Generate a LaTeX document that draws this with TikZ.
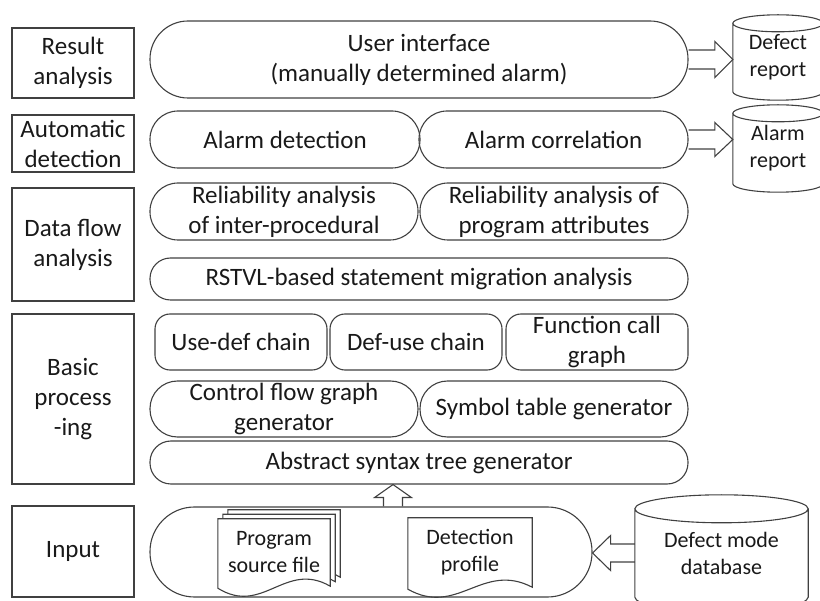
\documentclass[tikz,border=0pt]{standalone}
\usepackage{fontspec}
\setmainfont{Carlito}
\usetikzlibrary{calc,backgrounds}
\definecolor{rimgray}{HTML}{404040}
\newcommand{\bigtxt}{\fontsize{25}{30}\selectfont}
\newcommand{\smalltxt}{\fontsize{22}{27}\selectfont}
\tikzset{
  rim/.style={draw=rimgray,line width=1.1pt},
  tagbox/.style={rim,align=center,font=\bigtxt,inner sep=0pt,minimum width=122pt},
  pill/.style={rim,rounded corners=#1,align=center,font=\bigtxt,inner sep=0pt},
  drumnode/.style={align=center,font=\smalltxt,inner sep=0pt},
  sheetnode/.style={align=center,font=\smalltxt,inner sep=0pt},
  fatarr/.style={rim,line join=miter},
}
% cylinder outline round a node: name, half height of the ellipse
\newcommand{\drum}[2]{%
  \draw[rim] let \p1=(#1.north west), \p2=(#1.south east), \n1={(\x2-\x1)/2} in
    (\x1,{\y1-#2}) -- (\x1,{\y2+#2}) arc[start angle=180,end angle=360,x radius=\n1,y radius=#2] -- (\x2,{\y1-#2})
    ({\x1+\n1},{\y1-#2}) ellipse[x radius=\n1,y radius=#2];}
% page with wavy foot round a node: name, offset right, offset up
\newcommand{\sheet}[3]{%
  \draw[rim,fill=white] let \p1=($(#1.north west)+(#2,#3)$), \p2=($(#1.south east)+(#2,#3)$), \n1={\x2-\x1} in
    (\p1) -- (\x2,\y1) -- (\x2,\y2)
    .. controls ({\x2-0.4*\n1},{\y2+26pt}) and ({\x1+0.4*\n1},{\y2-30pt}) .. (\x1,{\y2-2pt}) -- cycle;}

\begin{document}
\begin{tikzpicture}[x=1pt,y=-1pt,text=black!90]
  \useasboundingbox (0,0) rectangle (820,601);
  % layer names
  \node[tagbox,minimum height=70pt] (tres) at (73,63) {Result\\analysis};
  \node[tagbox,minimum height=57pt] (tauto) at (73,143.5) {Automatic\\detection};
  \node[tagbox,minimum height=113pt] (tdata) at (73,244.5) {Data flow\\analysis};
  \node[tagbox,minimum height=170pt] (tbasic) at (73,399) {Basic\\process\\-ing};
  \node[tagbox,minimum height=91pt] (tinput) at (73,551.5) {Input};

  \node[pill=38pt,minimum width=538pt,minimum height=77pt] (ui) at (419,59.5) {User interface\\(manually determined alarm)};
  \node[pill=28pt,minimum width=270pt,minimum height=57pt] (adet) at (285,139.5) {Alarm detection};
  \node[pill=28pt,minimum width=269pt,minimum height=57pt] (acor) at (553.5,139.5) {Alarm correlation};
  \node[pill=28pt,minimum width=268pt,minimum height=57pt] (relinter) at (284,211.5) {Reliability analysis\\of inter-procedural};
  \node[pill=28pt,minimum width=268pt,minimum height=57pt] (relattr) at (554,211.5) {Reliability analysis of\\program attributes};
  \node[pill=20.5pt,minimum width=538pt,minimum height=42pt] (rstvl) at (419,279) {RSTVL-based statement migration analysis};
  \node[pill=15pt,minimum width=172pt,minimum height=56pt] (udc) at (241,342) {Use-def chain};
  \node[pill=15pt,minimum width=172pt,minimum height=56pt] (duc) at (416,342) {Def-use chain};
  \node[pill=15pt,minimum width=182pt,minimum height=56pt] (fcg) at (597,342) {Function call\\graph};
  \node[pill=27.5pt,minimum width=268pt,minimum height=56pt] (cfg) at (284,409) {Control flow graph\\generator};
  \node[pill=27.5pt,minimum width=268pt,minimum height=56pt] (stg) at (554,409) {Symbol table generator};
  \node[pill=21pt,minimum width=538pt,minimum height=43pt] (ast) at (419,462.5) {Abstract syntax tree generator};
  \node[pill=44.5pt,minimum width=442pt,minimum height=90pt] (inp) at (371,552) {};

  \node[sheetnode,minimum width=112pt,minimum height=67pt] (psf) at (274,552.5) {Program\\source file};
  \node[sheetnode,minimum width=124pt,minimum height=69pt] (dprof) at (470,552.5) {Detection\\profile};
  \begin{scope}[on background layer]
    \sheet{psf}{10pt}{9pt}
    \sheet{psf}{5pt}{4.5pt}
    \sheet{psf}{0pt}{0pt}
    \sheet{dprof}{0pt}{0pt}
  \end{scope}

  \node[drumnode,minimum width=90pt,minimum height=85pt] (drep) at (778,57.5) {Defect\\report};
  \node[drumnode,minimum width=90pt,minimum height=87pt] (arep) at (778,148.5) {Alarm\\report};
  \node[drumnode,minimum width=173pt,minimum height=116pt] (dmdb) at (721.5,553) {Defect mode\\database};
  \drum{drep}{8.5pt}
  \drum{arep}{8.5pt}
  \drum{dmdb}{14pt}

  \draw[fatarr] let \p1=(ui.east), \p2=(drep.west) in
    (\x1,\y1+9.5pt) -- (\x2-18pt,\y1+9.5pt) -- (\x2-18pt,\y1+18pt) -- (\x2,\y1)
    -- (\x2-18pt,\y1-18pt) -- (\x2-18pt,\y1-9.5pt) -- (\x1,\y1-9.5pt);
  \draw[fatarr] let \p1=(acor.east), \p2=(arep.west) in
    (\x1,\y1+9.5pt) -- (\x2-18pt,\y1+9.5pt) -- (\x2-18pt,\y1+17pt) -- (\x2,\y1)
    -- (\x2-18pt,\y1-17pt) -- (\x2-18pt,\y1-9.5pt) -- (\x1,\y1-9.5pt);
  \draw[fatarr] let \p1=(dmdb.west), \p2=(inp.east) in
    (\x1,\y1+9pt) -- (\x2+18pt,\y1+9pt) -- (\x2+18pt,\y1+17.5pt) -- (\x2,\y1)
    -- (\x2+18pt,\y1-17.5pt) -- (\x2+18pt,\y1-9pt) -- (\x1,\y1-9pt);
  \draw[fatarr] let \p1=([xshift=22pt]inp.north), \p2=(ast.south) in
    (\x1-9.5pt,\y1) -- (\x1-9.5pt,\y2-13pt) -- (\x1-18.5pt,\y2-13pt) -- (\x1,\y2)
    -- (\x1+18.5pt,\y2-13pt) -- (\x1+9.5pt,\y2-13pt) -- (\x1+9.5pt,\y1);
\end{tikzpicture}
\end{document}
